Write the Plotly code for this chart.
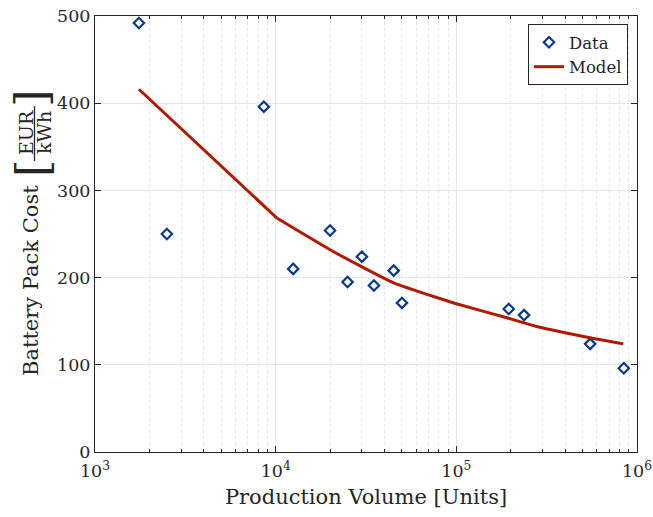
import plotly.graph_objects as go

# Data
data_volume = [1750, 2500, 8600, 12500, 20000, 25000, 30000, 35000, 45000, 50000,
               195000, 237000, 550000, 845000]
data_cost = [492, 250, 396, 210, 254, 195, 224, 191, 208, 171, 164, 157, 124, 96]

model_volume = [1750, 10200, 20000, 29000, 45000, 81000, 100000, 190000, 290000,
                550000, 840000]
model_cost = [416, 268, 232, 214, 194, 176, 170, 154, 143, 131, 124]

x_tickvals = [1e3, 1e4, 1e5, 1e6]
x_ticktext = ["10<sup>3</sup>", "10<sup>4</sup>", "10<sup>5</sup>", "10<sup>6</sup>"]
y_tickvals = [0, 100, 200, 300, 400, 500]

FONT = "DejaVu Serif"
TXT = "#262626"
W, H = 653, 517
# plot area in page pixels
PL, PT, PR, PB = 95, 16, 637, 452
L, T, R, B = PL, PT, W - PR, H - PB

def px(xp):
    return (xp - PL) / (PR - PL)

def py(yp):
    return (PB - yp) / (PB - PT)

fig = go.Figure()
fig.add_trace(go.Scatter(
    x=data_volume, y=data_cost, mode="markers", name="Data",
    marker=dict(symbol="diamond-open", size=8, color="#0a3a8c",
                line=dict(width=2.2, color="#0a3a8c")),
))
# straight segment up to the kink, then curved part
fig.add_trace(go.Scatter(
    x=model_volume[:2], y=model_cost[:2], mode="lines", name="Model",
    legendgroup="model", line=dict(color="#b01a00", width=3),
))
fig.add_trace(go.Scatter(
    x=model_volume[1:], y=model_cost[1:], mode="lines", name="Model",
    legendgroup="model", showlegend=False,
    line=dict(color="#b01a00", width=3, shape="spline", smoothing=0.6),
))

axis_common = dict(
    showline=True, linecolor=TXT, linewidth=1, mirror="ticks",
    ticks="inside", ticklen=6, tickcolor=TXT,
    gridcolor="#e6e6e6", gridwidth=1,
    tickfont=dict(family=FONT, size=17.5, color=TXT),
    zeroline=False, automargin=False, ticklabeloverflow="allow",
)

fig.update_xaxes(
    type="log", range=[3, 6], tickvals=x_tickvals, ticktext=x_ticktext,
    minor=dict(ticks="inside", ticklen=3, tickcolor=TXT, dtick="D1",
               showgrid=True, gridcolor="#e8e8e8", griddash="dot"),
    title=dict(text="Production Volume [Units]",
               font=dict(family=FONT, size=21, color=TXT), standoff=9),
    ticklabelstandoff=3,
    **axis_common,
)
fig.update_yaxes(
    range=[0, 500], tickvals=y_tickvals,
    **axis_common,
)

fig.add_annotation(text="Battery Pack Cost", textangle=-90, xref="paper", yref="paper",
                   x=px(31), y=py(281), showarrow=False,
                   font=dict(family=FONT, size=21, color=TXT),
                   xanchor="center", yanchor="middle")
fig.add_annotation(text="[", textangle=-90, xref="paper", yref="paper",
                   x=px(32), y=py(168), showarrow=False,
                   font=dict(family=FONT, size=45, color=TXT),
                   xanchor="center", yanchor="middle")
fig.add_annotation(text="]", textangle=-90, xref="paper", yref="paper",
                   x=px(32), y=py(98), showarrow=False,
                   font=dict(family=FONT, size=45, color=TXT),
                   xanchor="center", yanchor="middle")
fig.add_annotation(text="EUR", textangle=-90, xref="paper", yref="paper",
                   x=px(26), y=py(133), showarrow=False,
                   font=dict(family=FONT, size=19, color=TXT),
                   xanchor="center", yanchor="middle")
fig.add_annotation(text="kWh", textangle=-90, xref="paper", yref="paper",
                   x=px(44), y=py(133), showarrow=False,
                   font=dict(family=FONT, size=19, color=TXT),
                   xanchor="center", yanchor="middle")
fig.add_shape(type="line", xref="paper", yref="paper",
              x0=px(34.5), x1=px(34.5), y0=py(106), y1=py(161),
              line=dict(color=TXT, width=1.3))

fig.update_layout(
    width=W, height=H,
    margin=dict(l=L, r=R, t=T, b=B),
    paper_bgcolor="white", plot_bgcolor="white",
    showlegend=True,
    legend=dict(x=px(628), y=py(24), xanchor="right", yanchor="top",
                bgcolor="white", bordercolor=TXT, borderwidth=1,
                font=dict(family=FONT, size=16.5, color=TXT),
                itemwidth=30, tracegroupgap=0),
)

fig.write_html("out.html",
               config={"displayModeBar": False},
               post_script="document.body.style.margin='0px';document.body.style.overflow='hidden';")
